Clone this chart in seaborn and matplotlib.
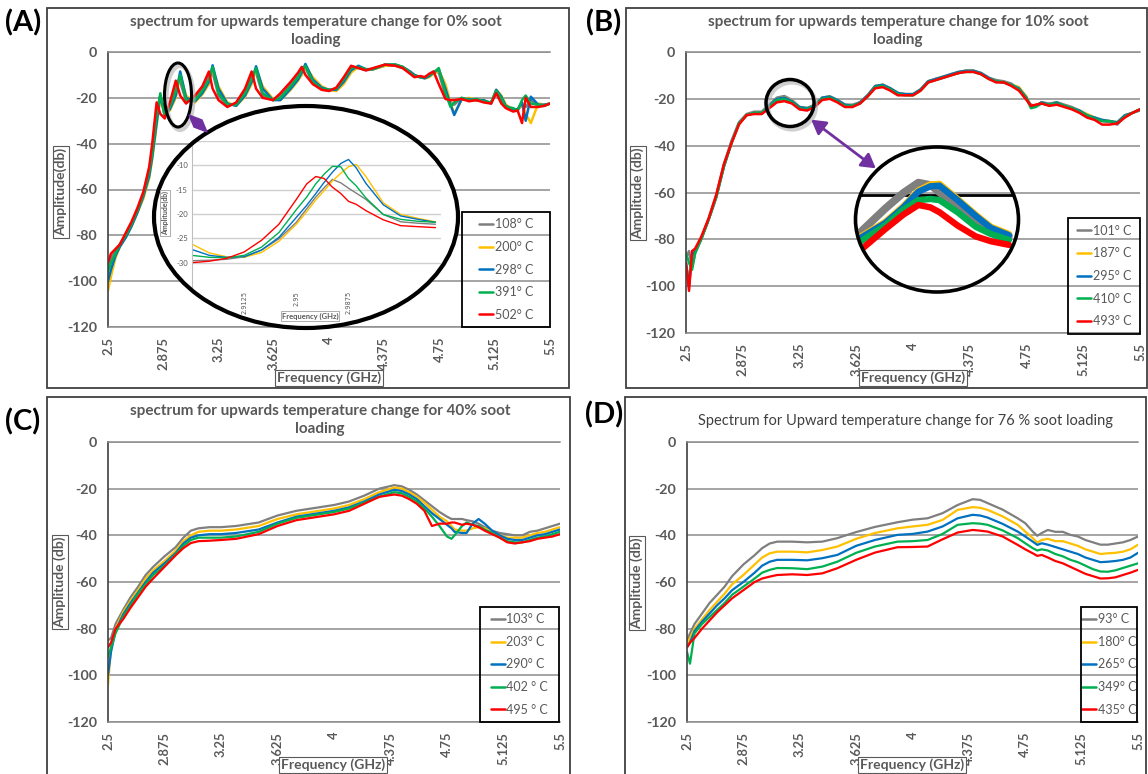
import numpy as np
import pandas as pd
import matplotlib
matplotlib.use('Agg')
import matplotlib.pyplot as plt
import seaborn as sns
from matplotlib.patches import Ellipse, Rectangle, FancyArrowPatch, Polygon
from matplotlib.lines import Line2D

W, H = 1148, 774

COLORS = ['#7f7f7f', '#ffc000', '#0070c0', '#00b050', '#ff0000']
TEXT_GRAY = '#595959'
GRID_GRAY = '#8c8c8c'
PURPLE = '#7030a0'

XTICKS = [2.5, 2.875, 3.25, 3.625, 4.0, 4.375, 4.75, 5.125, 5.5]
XTICK_LABELS = ['2.5', '2.875', '3.25', '3.625', '4', '4.375', '4.75', '5.125', '5.5']
YTICKS = [-120, -100, -80, -60, -40, -20, 0]

# ---------------- (A) 0 % soot ----------------
labels_a = ['108° C', '200° C', '298° C', '391° C', '502° C']
freq_a = [2.50, 2.52, 2.55, 2.58, 2.62, 2.66, 2.70, 2.74, 2.78, 2.80,
          2.83, 2.855, 2.885, 2.92, 2.96, 2.99, 3.03, 3.09, 3.14, 3.185,
          3.21, 3.25, 3.31, 3.37, 3.43, 3.475, 3.505, 3.55, 3.62, 3.67,
          3.74, 3.79, 3.815, 3.84, 3.89, 3.95, 4.00, 4.05, 4.10, 4.15,
          4.20, 4.25, 4.30, 4.38, 4.45, 4.50, 4.55, 4.58, 4.62, 4.65,
          4.68, 4.71, 4.745, 4.79, 4.825, 4.85, 4.90, 4.95, 5.00, 5.05,
          5.10, 5.135, 5.17, 5.20, 5.25, 5.28, 5.31, 5.335, 5.37, 5.42,
          5.46, 5.50]
a_108 = [-94, -90, -87, -84, -80, -75, -69, -62, -51, -43,
         -26, -19, -28, -23, -14, -13, -21.5, -20, -16, -10,
         -9, -19, -23.5, -22.5, -17, -10, -9, -19, -21, -19,
         -14, -10, -7, -7, -13.5, -16, -17, -16, -11.5, -7,
         -7, -8, -7.5, -6, -6, -7, -9, -10.5, -11, -11,
         -10, -8.5, -9, -19, -22, -23, -20, -21, -21, -21.5,
         -22, -17, -21, -24, -25.5, -25.5, -23, -24, -21, -23.5,
         -23.5, -22.5]
a_200 = [-104, -98, -90, -85, -81, -76, -70, -64, -55, -47,
         -32, -20, -27, -25.5, -20, -10, -19, -22, -18.5, -14,
         -7, -15, -22, -23.5, -19.5, -14, -7.5, -15, -20.5, -21,
         -16.5, -12.5, -10, -6, -11, -15, -16.5, -17, -14, -9,
         -6.5, -7.5, -7.5, -6, -5.5, -6.5, -8.5, -10, -11, -11.5,
         -11, -9.5, -8, -14, -22, -27, -21, -20, -21, -21,
         -22.5, -16.5, -19, -23, -25, -25, -23, -27, -31, -22.5,
         -23, -22.5]
a_298 = [-100, -95, -89, -85, -81, -76, -70, -63, -54, -46,
         -31, -19, -27, -25, -19, -8.5, -20, -21.5, -18, -13,
         -5.8, -16, -22.5, -23.5, -19, -13, -6.2, -16, -21, -21,
         -16, -12, -9, -5.2, -12, -15.5, -16.5, -16.5, -13, -8,
         -6, -7.5, -7.5, -5.5, -5.5, -6.5, -8.5, -10, -11, -11.5,
         -10.5, -9, -7.5, -16, -23, -27.5, -20.5, -20.5, -21, -21,
         -22.5, -16.5, -19.5, -23.5, -25, -25, -22, -30, -19.5, -23,
         -23, -22.5]
a_391 = [-96, -92, -88, -84, -80, -75, -69, -62, -52, -44,
         -28, -18, -28, -24, -17, -10, -21, -21, -17, -12,
         -6.5, -18, -23, -23, -18, -12, -7, -18, -21, -20,
         -15, -11, -8, -6, -13, -16, -16.5, -16, -12, -7,
         -6.5, -7.5, -7.5, -5.5, -5.5, -6.5, -9, -10.5, -11, -11,
         -10, -9, -7, -18, -24, -22, -20, -21, -20.5, -21.5,
         -22, -17, -20, -24, -24.5, -25.5, -21, -19, -22.5, -23,
         -23.5, -22.5]
a_502 = [-92, -88, -86, -84, -79, -74, -68, -61, -50, -40,
         -22, -27, -29, -22, -12.5, -19, -22.5, -19, -15, -8.5,
         -16, -21, -24, -22, -16, -8.5, -16, -20, -21, -18,
         -13, -9, -6.5, -10, -14, -16.5, -17, -15.5, -11, -6,
         -7, -8, -7, -5.5, -6, -7, -9.5, -11, -10.5, -11,
         -9.5, -8.5, -14, -20.5, -21, -21, -20.5, -21.5, -21, -22,
         -22.5, -18, -22.5, -24.5, -26, -25.5, -31, -20, -24, -24,
         -23.5, -22.5]

# zoomed view of the second resonance (inset in A)
zoom_a_freq = [2.875, 2.8875, 2.9, 2.9125, 2.925, 2.9375, 2.95, 2.9575, 2.964, 2.97,
               2.976, 2.982, 2.9875, 2.993, 3.0, 3.0125, 3.025, 3.0375, 3.05]
za_108 = [-29.6, -29.5, -29.3, -28.8, -27.4, -25.1, -21.7, -18.9, -16.5, -14.6,
          -12.9, -13.6, -14.7, -15.7, -17.0, -20.1, -21.6, -21.9, -22.1]
za_200 = [-26.2, -28.0, -28.8, -28.9, -27.9, -25.6, -22.1, -19.5, -17.1, -15.2,
          -13.2, -11.6, -10.3, -9.8, -12.3, -17.7, -20.1, -20.9, -21.6]
za_298 = [-27.3, -28.5, -28.9, -28.8, -27.4, -24.8, -20.7, -18.2, -15.8, -13.5,
          -11.4, -9.6, -8.8, -10.5, -13.7, -18.1, -20.4, -21.1, -21.7]
za_391 = [-28.5, -28.9, -29.0, -28.5, -26.8, -23.8, -19.1, -16.5, -13.8, -11.8,
          -10.2, -10.3, -12.7, -14.2, -16.7, -20.1, -21.1, -21.5, -21.7]
za_502 = [-30.0, -29.7, -29.1, -27.8, -25.4, -22.1, -17.0, -13.8, -12.3, -12.7,
          -14.5, -15.8, -17.4, -18.0, -19.3, -21.2, -22.4, -22.6, -22.8]

# ---------------- (B) 10 % soot ----------------
labels_b = ['101° C', '187° C', '295° C', '410° C', '493° C']
freq_b = [2.50, 2.52, 2.54, 2.56, 2.60, 2.65, 2.70, 2.75, 2.80, 2.85,
          2.90, 2.95, 3.00, 3.05, 3.10, 3.15, 3.20, 3.25, 3.30, 3.35,
          3.40, 3.45, 3.50, 3.55, 3.60, 3.65, 3.70, 3.75, 3.80, 3.85,
          3.90, 3.95, 4.00, 4.05, 4.10, 4.15, 4.20, 4.25, 4.30, 4.35,
          4.40, 4.45, 4.50, 4.55, 4.60, 4.65, 4.70, 4.75, 4.78, 4.81,
          4.85, 4.90, 4.95, 5.00, 5.05, 5.10, 5.15, 5.20, 5.25, 5.30,
          5.35, 5.40, 5.45, 5.50]
b_101 = [-88, -85, -92, -86, -80, -71, -61, -48, -38, -30,
         -26.5, -25.5, -25.5, -22.5, -19.5, -18.8, -20.5, -23.5, -24, -22.5,
         -19.5, -19, -20.5, -22.5, -22.5, -21.5, -18.5, -15, -14, -15.5,
         -17.5, -18, -18, -16, -12.5, -11.5, -11, -9.5, -9, -8,
         -8, -9, -11, -12, -12.5, -13.5, -16, -20, -22.5, -23,
         -21.5, -22, -21.5, -22.5, -23.5, -25, -27, -28, -29.5, -30,
         -31, -27.5, -26, -25]
b_187 = [-92, -96, -88, -85, -80, -71.5, -62, -49, -39, -30.5,
         -27, -26, -26, -23, -20, -19.4, -20.8, -23.5, -24, -23,
         -19.5, -19, -20.5, -22.5, -23, -21.5, -18.5, -14.5, -14, -15.5,
         -17.5, -18, -18, -16, -12.5, -11.5, -10.5, -9.5, -8.5, -8,
         -8, -9, -11, -12.5, -13, -14, -15, -19, -23.5, -23,
         -21.5, -22.5, -21.5, -23, -24, -25, -26.5, -28, -29, -29.5,
         -30, -27, -26, -24.5]
b_295 = [-90, -100, -87, -85, -80, -71.5, -62, -49, -39, -30.5,
         -27, -26, -26, -23, -20, -19.5, -21, -23.5, -24, -23,
         -19.5, -19, -20.5, -22.5, -23, -21.5, -18.5, -14.5, -14, -15.5,
         -17.5, -18, -18, -16, -12.5, -11.5, -10.5, -9.5, -8.5, -8,
         -8, -9, -11, -12.5, -13, -14, -15.5, -19.5, -23.5, -23,
         -21.5, -22.5, -21.5, -23, -24, -25, -27, -28, -29, -29.5,
         -30, -27, -26, -24.5]
b_410 = [-86, -90, -93, -86, -80, -71.5, -62, -49, -39, -30.5,
         -27, -26, -26, -23.5, -20.5, -20.2, -21.5, -24, -24.5, -23,
         -20, -19.5, -21, -23, -23, -22, -19, -15, -14.5, -16,
         -18, -18.5, -18.5, -16.5, -13, -12, -11, -10, -9, -8.5,
         -8.5, -9.5, -11.5, -12.5, -13, -14, -16, -20, -24, -23.5,
         -22, -22.5, -22, -23, -24, -25.5, -27, -28.5, -29.5, -29.5,
         -30.5, -27.5, -26, -24.5]
b_493 = [-90, -102, -85, -84, -79, -71, -61, -48, -39, -31,
         -27, -26.5, -26.5, -24, -21.5, -21, -22, -24.5, -25, -23.5,
         -20.5, -20, -21.5, -23.5, -23.5, -22, -19, -15.5, -15, -16.5,
         -18.5, -18.5, -18.5, -16.5, -13, -12, -11, -10, -9, -8.5,
         -8.5, -9.5, -11.5, -13, -13, -14.5, -16.5, -20.5, -23, -22.5,
         -22, -23, -22.5, -23.5, -24.5, -26, -28, -29, -31, -31,
         -30.5, -28, -26, -24.5]

# magnified first peak (circle in B)
zoom_b_freq = [3.05, 3.09, 3.12, 3.145, 3.165, 3.18, 3.21, 3.24, 3.265, 3.295]
zb_101 = [-23.0, -21.1, -19.8, -18.95, -19.15, -19.75, -20.95, -22.1, -22.8, -23.35]
zb_187 = [-23.4, -22.2, -20.9, -19.6, -19.1, -19.05, -20.3, -21.6, -22.6, -23.2]
zb_295 = [-23.5, -22.3, -21.0, -19.7, -19.25, -19.2, -20.4, -21.7, -22.7, -23.3]
zb_410 = [-23.8, -22.5, -21.2, -20.4, -20.3, -20.4, -21.4, -22.6, -23.2, -23.7]
zb_493 = [-24.5, -22.8, -21.6, -20.8, -21.0, -21.4, -22.5, -23.4, -23.8, -24.1]

# ---------------- (C) 40 % soot ----------------
labels_c = ['103° C', '203° C', '290° C', '402 ° C', '495 ° C']
freq_c = [2.50, 2.52, 2.55, 2.60, 2.65, 2.70, 2.75, 2.80, 2.875, 2.95,
          3.00, 3.05, 3.10, 3.175, 3.25, 3.35, 3.50, 3.625, 3.75, 3.90,
          4.00, 4.10, 4.20, 4.30, 4.40, 4.45, 4.50, 4.55, 4.60, 4.65,
          4.70, 4.75, 4.78, 4.80, 4.85, 4.88, 4.92, 4.96, 5.00, 5.05,
          5.10, 5.15, 5.20, 5.25, 5.30, 5.35, 5.40, 5.45, 5.50]
c_103 = [-85, -84, -78, -72, -66.5, -62, -57, -53.5, -49, -45,
         -41, -38, -37, -36.5, -36.5, -36, -34.5, -31.5, -29.5, -28,
         -27, -25.5, -23, -20, -18.5, -19, -20.5, -22.5, -25, -27.5,
         -30, -32, -33, -33, -33, -33.5, -34, -35, -36.5, -38,
         -39, -39.5, -40, -40, -38.5, -38, -37, -36, -35]
c_203 = [-104, -88, -80, -73, -68, -63.5, -58.5, -55, -51, -46.5,
         -42.5, -40, -38.5, -38, -38, -37.5, -36, -33, -31, -29.5,
         -28.5, -27, -24.5, -21.5, -19.5, -20, -21.5, -23.5, -26, -29,
         -32, -34, -36, -37.5, -38, -38, -37, -36.5, -37, -38.5,
         -40, -41, -41, -41, -40, -39, -38.5, -37.5, -36.5]
c_290 = [-100, -90, -81, -74, -69, -64.5, -60, -56, -52, -47.5,
         -43.5, -41, -40, -39.5, -39.5, -39, -37.5, -34.5, -32, -30.5,
         -29.5, -28, -25.5, -22.5, -20.5, -21, -22.5, -24.5, -27.5, -30.5,
         -33, -35.5, -37, -38.5, -39, -39, -35, -33, -35, -38,
         -40, -41.5, -42, -42, -41, -40, -39.5, -38.5, -37.5]
c_402 = [-92, -88, -82, -75, -70, -65, -61, -57, -53, -48,
         -44.5, -42, -41, -41, -41, -40.5, -38.5, -35, -32.5, -31,
         -30, -28.5, -26, -23.5, -21.5, -22, -23.5, -25.5, -28.5, -32,
         -36, -40.5, -41.5, -40, -36, -34.5, -35.5, -36, -37.5, -39,
         -41, -42.5, -43, -43, -42, -41, -40.5, -39.5, -38.5]
c_495 = [-88, -86, -80, -76, -71, -66.5, -62, -58.5, -53.5, -48.5,
         -45.5, -43.3, -42.5, -42.3, -42, -41.5, -39.5, -36, -33.5, -32,
         -31, -29.5, -26.5, -23.5, -22.5, -23, -24.5, -26.5, -29.5, -36,
         -35, -35, -34.5, -34.5, -35.5, -35, -35.5, -36.5, -38, -39.5,
         -41, -43, -43.5, -43, -42.5, -41.5, -41, -40.5, -39.5]

# ---------------- (D) 76 % soot ----------------
labels_d = ['93° C', '180° C', '265° C', '349° C', '435° C']
freq_d = [2.50, 2.52, 2.55, 2.60, 2.65, 2.70, 2.75, 2.80, 2.875, 2.95,
          3.00, 3.05, 3.10, 3.20, 3.30, 3.40, 3.50, 3.625, 3.75, 3.90,
          4.00, 4.10, 4.20, 4.30, 4.40, 4.45, 4.50, 4.60, 4.70, 4.75,
          4.80, 4.83, 4.86, 4.90, 4.95, 5.00, 5.05, 5.10, 5.15, 5.20,
          5.25, 5.30, 5.35, 5.40, 5.45, 5.50]
d_93 = [-85, -82, -78, -73.5, -69, -65.5, -62, -57.5, -52.5, -48.5,
        -45.5, -43.5, -42.7, -42.7, -43, -42.7, -41.2, -38.6, -36.4, -34.4,
        -33.3, -32.7, -30.5, -27, -24.5, -24.8, -26.2, -29, -32.7, -34.8,
        -38.4, -40.2, -39, -37.7, -38.5, -38.5, -39.8, -40.5, -42, -43,
        -44, -44, -43.5, -43, -42, -40.5]
d_180 = [-87, -84, -80, -76, -72, -68.5, -65, -61, -57, -52.5,
         -49.5, -47.7, -47, -47, -47.3, -46.3, -44.8, -41.5, -39, -37,
         -36.2, -35.5, -33.4, -29.1, -27.9, -28.2, -29.1, -31.9, -35.5, -38.4,
         -41.2, -43.1, -42, -41.5, -42.5, -42.5, -43.5, -44.5, -46, -47,
         -48, -47.7, -47.5, -47, -46, -44]
d_265 = [-88, -86, -81, -77, -73.5, -70, -67, -63.5, -60, -56,
         -53, -51.3, -50.5, -50.5, -50.7, -49.8, -48.4, -44.5, -42, -39.8,
         -39.4, -38.4, -36.2, -32.7, -31.2, -31.5, -32.4, -35.1, -38.4, -40.5,
         -42.7, -44.1, -43.4, -44, -45, -46, -47, -48, -49.5, -50.5,
         -51.5, -51.3, -51, -50.5, -49.5, -47.5]
d_349 = [-90, -95, -82, -78, -75, -72, -69, -65.5, -62, -58.5,
         -56, -54.8, -54, -54.1, -54.5, -53.4, -51.3, -47.5, -44.8, -42.7,
         -42.5, -42, -39.4, -35.5, -34.8, -35, -35.5, -37.9, -41.2, -43.4,
         -45.5, -46.5, -46, -46.5, -48, -49, -50.5, -51.5, -53, -54.5,
         -55.5, -55.6, -55, -54, -53, -52]
d_435 = [-88, -86, -84, -80, -76.5, -73, -70, -67, -63.5, -60,
         -58.5, -57.7, -57, -56.7, -57, -56.3, -54.1, -50.5, -47.4, -45.1,
         -45, -44.8, -41.7, -38.8, -37.7, -38, -38.4, -40.5, -44.1, -46,
         -47.7, -48.8, -48.4, -49.5, -51, -52, -53.5, -55, -56.5, -57.5,
         -58.5, -58.4, -58, -57, -56, -54.8]


def px_rect(l, t, r, b):
    # pixel box (left, top, right, bottom) -> figure fraction rect
    return [l / W, 1 - b / H, (r - l) / W, (b - t) / H]


def px(x, y):
    return (x / W, 1 - y / H)


def long_frame(freq, series, labels):
    frames = [pd.DataFrame({'freq': freq, 'amp': vals, 'temp': lab})
              for vals, lab in zip(series, labels)]
    return pd.concat(frames, ignore_index=True)


def draw_lines(ax, freq, series, labels, lw):
    df = long_frame(freq, series, labels)
    sns.lineplot(data=df, x='freq', y='amp', hue='temp', hue_order=labels,
                 palette=COLORS, estimator=None, sort=False, linewidth=lw,
                 legend=False, ax=ax)
    ax.set_xlabel('')
    ax.set_ylabel('')


def style_main(ax):
    ax.set_xlim(2.5, 5.5)
    ax.set_ylim(-120, 0)
    ax.set_xticks(XTICKS)
    ax.set_xticklabels(XTICK_LABELS, rotation=90, fontsize=9.3,
                       fontweight='bold', color=TEXT_GRAY)
    ax.set_yticks(YTICKS)
    ax.set_yticklabels([str(v) for v in YTICKS], fontsize=10.3,
                       fontweight='bold', color=TEXT_GRAY)
    ax.tick_params(axis='x', length=0, pad=7)
    ax.tick_params(axis='y', length=0, pad=8)
    ax.grid(axis='y', color=GRID_GRAY, lw=1.1)
    ax.grid(axis='x', visible=False)
    ax.set_axisbelow(True)
    ax.patch.set_alpha(0)
    for side in ['top', 'bottom']:
        ax.spines[side].set_color(GRID_GRAY)
        ax.spines[side].set_linewidth(1.1)
    ax.spines['left'].set_color('#404040')
    ax.spines['left'].set_linewidth(1.2)
    ax.spines['right'].set_visible(False)


def add_legend(fig, ax, labels, box):
    l, t, r, b = box
    fig.patches.append(Rectangle(px(l, b), (r - l) / W, (b - t) / H,
                                 transform=fig.transFigure, fill=False,
                                 ec='black', lw=1.3, zorder=1))
    handles = [Line2D([], [], color=c, lw=1.8) for c in COLORS]
    leg = ax.legend(handles, labels, loc='center',
                    bbox_to_anchor=px((l + r) / 2, (t + b) / 2),
                    bbox_transform=fig.transFigure, frameon=False,
                    fontsize=9, handlelength=1.15, handletextpad=0.1,
                    labelspacing=0.85, borderpad=0, borderaxespad=0)
    for txt in leg.get_texts():
        txt.set_color(TEXT_GRAY)


def add_axis_labels(fig, ylab, yx, yy, xx, xy):
    box = dict(boxstyle='square,pad=0.12', fc='white', ec='#595959', lw=0.8)
    fig.text(yx / W, 1 - yy / H, ylab, rotation=90, ha='center', va='center',
             fontsize=10, fontweight='bold', color=TEXT_GRAY, bbox=box)
    fig.text(xx / W, 1 - xy / H, 'Frequency (GHz)', ha='center', va='center',
             fontsize=10, fontweight='bold', color=TEXT_GRAY, bbox=box)


def frame(fig, l, t, r, b):
    fig.patches.append(Rectangle(px(l, b), (r - l) / W, (b - t) / H,
                                 transform=fig.transFigure, fill=False,
                                 ec='#404040', lw=1.3, zorder=1))


def ellipse(fig, cx, cy, w, h, **kw):
    return Ellipse(px(cx, cy), w / W, h / H, transform=fig.transFigure, **kw)


def main():
    sns.set_style('white')
    plt.rcParams['font.family'] = ['Lato', 'DejaVu Sans']

    fig = plt.figure(figsize=(W / 100, H / 100), dpi=100)

    # panel frames
    frame(fig, 47, 8, 569, 388)
    frame(fig, 626, 8, 1147, 388)
    frame(fig, 47, 397, 570, 790)
    frame(fig, 625, 397, 1146, 790)

    # ---- (A)
    ax_a = fig.add_axes(px_rect(108, 52, 550, 327))
    draw_lines(ax_a, freq_a, [a_108, a_200, a_298, a_391, a_502], labels_a, 1.8)
    style_main(ax_a)
    add_legend(fig, ax_a, labels_a, (462, 212, 550, 327))
    add_axis_labels(fig, 'Amplitude(db)', 61, 192, 329, 378)

    # ---- (B)
    ax_b = fig.add_axes(px_rect(686, 52, 1140, 333))
    draw_lines(ax_b, freq_b, [b_101, b_187, b_295, b_410, b_493], labels_b, 1.8)
    style_main(ax_b)
    add_legend(fig, ax_b, labels_b, (1068, 218, 1140, 334))
    add_axis_labels(fig, 'Amplitude (db)', 638, 193, 913, 378)

    # ---- (C)
    ax_c = fig.add_axes(px_rect(108, 442, 560, 722))
    draw_lines(ax_c, freq_c, [c_103, c_203, c_290, c_402, c_495], labels_c, 1.6)
    style_main(ax_c)
    add_legend(fig, ax_c, labels_c, (480, 607, 559, 722))
    add_axis_labels(fig, 'Amplitude (db)', 60, 582, 333, 765)

    # ---- (D)
    ax_d = fig.add_axes(px_rect(687, 442, 1138, 722))
    draw_lines(ax_d, freq_d, [d_93, d_180, d_265, d_349, d_435], labels_d, 1.6)
    style_main(ax_d)
    add_legend(fig, ax_d, labels_d, (1081, 607, 1137, 722))
    add_axis_labels(fig, 'Amplitude (db)', 637, 583, 912, 765)

    # titles and panel letters
    title_kw = dict(ha='center', va='center', fontsize=11, fontweight='bold',
                    color=TEXT_GRAY, linespacing=1.4)
    fig.text(316 / W, 1 - 31 / H,
             'spectrum for upwards temperature change for 0% soot\nloading', **title_kw)
    fig.text(898 / W, 1 - 31 / H,
             'spectrum for upwards temperature change for 10% soot\nloading', **title_kw)
    fig.text(320 / W, 1 - 420 / H,
             'spectrum for upwards temperature change for 40% soot\nloading', **title_kw)
    fig.text(906 / W, 1 - 421 / H,
             'Spectrum for Upward temperature change for 76 % soot loading',
             ha='center', va='center', fontsize=10.5, color='#404040')
    for lab, x, y in [('(A)', 5, 23), ('(B)', 586, 23), ('(C)', 5, 422), ('(D)', 585, 415)]:
        fig.text(x / W, 1 - y / H, lab, ha='left', va='center', fontsize=21,
                 fontweight='bold', color='black')

    # ---- magnified inset in (A)
    fig.patches.append(ellipse(fig, 306, 217, 304, 222, fc='white', ec='none', zorder=1))
    clip_a = ellipse(fig, 306, 217, 304, 222)
    ax_za = fig.add_axes(px_rect(192, 141, 441, 287))
    ax_za.set_zorder(2)
    ax_za.patch.set_visible(False)
    for yv in [-30, -25, -20, -15, -10, -5]:
        gl = ax_za.axhline(yv, color='#cfcfcf', lw=1.0, zorder=0)
        gl.set_clip_path(clip_a)
    draw_lines(ax_za, zoom_a_freq, [za_108, za_200, za_298, za_391, za_502], labels_a, 1.0)
    ax_za.set_xlim(2.875, 3.054)
    ax_za.set_ylim(-35, -5)
    ax_za.set_yticks([-30, -25, -20, -15, -10])
    ax_za.set_yticklabels(['-30', '-25', '-20', '-15', '-10'], fontsize=5.5, color=TEXT_GRAY)
    ax_za.set_xticks([2.9125, 2.95, 2.9875])
    ax_za.set_xticklabels(['2.9125', '2.95', '2.9875'], rotation=90, fontsize=4.8,
                          color=TEXT_GRAY, family=['DejaVu Sans'])
    ax_za.tick_params(length=0, pad=3)
    ax_za.grid(False)
    for side in ['top', 'right', 'bottom']:
        ax_za.spines[side].set_visible(False)
    ax_za.spines['left'].set_color('#bfbfbf')
    ax_za.spines['left'].set_linewidth(0.8)
    small_box = dict(boxstyle='square,pad=0.15', fc='white', ec='#a0a0a0', lw=0.6)
    fig.text(165 / W, 1 - 213 / H, 'Amplitude(db)', rotation=90, ha='center', va='center',
             fontsize=5, fontweight='bold', color=TEXT_GRAY, bbox=small_box, zorder=4)
    fig.text(310 / W, 1 - 316 / H, 'Frequency (GHz)', ha='center', va='center',
             fontsize=5.5, fontweight='bold', color=TEXT_GRAY, bbox=small_box, zorder=4)
    fig.patches.append(ellipse(fig, 306, 217, 304, 222, fc='none', ec='black', lw=3, zorder=3))

    # small marker ellipse + purple pointer in (A)
    fig.patches.append(ellipse(fig, 180, 98, 27, 64, fc='none', ec='#b0b0b0', lw=3, alpha=0.6, zorder=3))
    fig.patches.append(ellipse(fig, 178, 95, 27, 64, fc='none', ec='black', lw=2.2, zorder=3))
    fig.patches.append(Polygon([px(189, 115), px(202, 120), px(207, 132), px(194, 127)],
                               closed=True, transform=fig.transFigure, fc=PURPLE,
                               ec=PURPLE, zorder=3))

    # ---- magnified circle in (B)
    clip_b = ellipse(fig, 937, 219.5, 163, 145)
    ax_zb = fig.add_axes(px_rect(855, 147, 1018, 292))
    ax_zb.set_zorder(2)
    ax_zb.patch.set_visible(False)
    hl = ax_zb.axhline(-20, color='black', lw=2, zorder=1)
    hl.set_clip_path(clip_b)
    draw_lines(ax_zb, zoom_b_freq, [zb_101, zb_187, zb_295, zb_410, zb_493], labels_b, 4.6)
    ax_zb.set_xlim(3.04, 3.31)
    ax_zb.set_ylim(-28, -16)
    ax_zb.set_axis_off()
    for ln in ax_zb.get_lines():
        ln.set_clip_path(clip_b)
        ln.set_solid_capstyle('round')
    ax_zb.get_lines()[1].set_linewidth(5.6)
    fig.patches.append(ellipse(fig, 937, 219.5, 163, 145, fc='none', ec='black', lw=2.6, zorder=3))

    fig.patches.append(ellipse(fig, 792, 106, 48, 47, fc='none', ec='#b0b0b0', lw=3, alpha=0.6, zorder=3))
    fig.patches.append(ellipse(fig, 790, 103, 48, 47, fc='none', ec='black', lw=2.5, zorder=3))
    fig.patches.append(FancyArrowPatch(px(809, 118), px(878, 170), transform=fig.transFigure,
                                       arrowstyle='<|-|>,head_length=0.6,head_width=0.35',
                                       mutation_scale=14, color=PURPLE, lw=2, zorder=3))

    fig.savefig('out.png', dpi=100)
    plt.close(fig)


if __name__ == '__main__':
    main()
